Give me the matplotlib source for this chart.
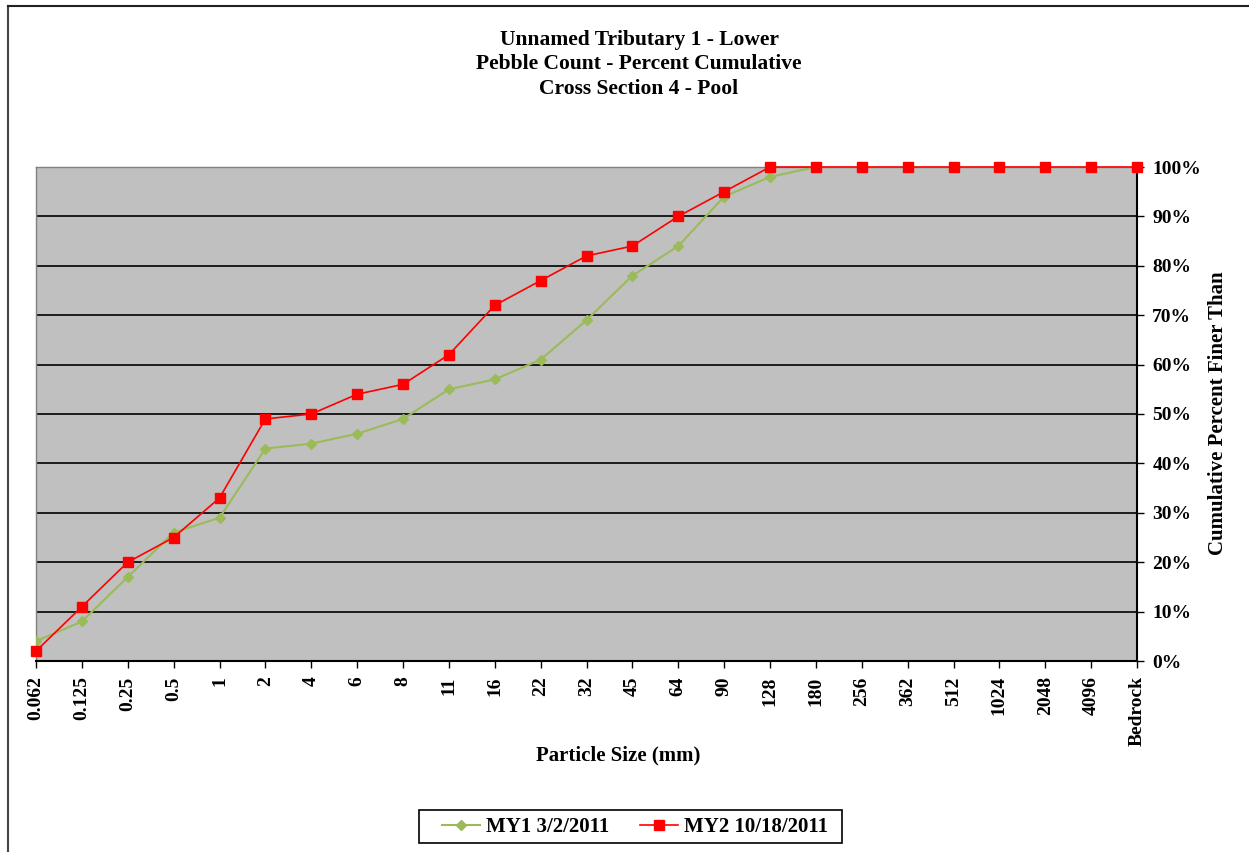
import matplotlib
matplotlib.use("Agg")
import matplotlib.pyplot as plt
from matplotlib.lines import Line2D
from matplotlib.patches import Rectangle
from matplotlib.ticker import FuncFormatter

plt.rcParams['font.family'] = ['Liberation Serif', 'DejaVu Serif']
plt.rcParams['font.weight'] = 'bold'

sizes = ["0.062", "0.125", "0.25", "0.5", "1", "2", "4", "6", "8", "11", "16",
         "22", "32", "45", "64", "90", "128", "180", "256", "362", "512",
         "1024", "2048", "4096", "Bedrock"]
my1 = [4, 8, 17, 26, 29, 43, 44, 46, 49, 55, 57, 61, 69, 78, 84, 94, 98,
       100, 100, 100, 100, 100, 100, 100, 100]
my2 = [2, 11, 20, 25, 33, 49, 50, 54, 56, 62, 72, 77, 82, 84, 90, 95, 100,
       100, 100, 100, 100, 100, 100, 100, 100]
yticks = [0, 10, 20, 30, 40, 50, 60, 70, 80, 90, 100]

W, H = 1249, 852
fig = plt.figure(figsize=(W / 100, H / 100), dpi=100)

# outer chart frame (top and left edges)
fig.add_artist(Line2D([8 / W, 8 / W], [0, 1 - 6 / H], color='#444444', lw=1.5,
                      transform=fig.transFigure))
fig.add_artist(Line2D([8 / W, 1], [1 - 6 / H, 1 - 6 / H], color='#222222', lw=1.5,
                      transform=fig.transFigure))

ax = fig.add_axes([36 / W, 1 - 661 / H, 1101 / W, 494 / H])
ax.set_facecolor('#C0C0C0')

x = list(range(len(sizes)))
ax.plot(x, my1, color='#9BBB59', lw=1.5, marker='D', ms=5, mec='#9BBB59',
        mfc='#9BBB59', label='MY1 3/2/2011', zorder=3)
ax.plot(x, my2, color='#FF0000', lw=1.2, marker='s', ms=7, mec='#FF0000',
        mfc='#FF0000', label='MY2 10/18/2011', zorder=4, clip_on=False)

ax.set_xlim(0, len(sizes) - 1)
ax.set_ylim(0, 100)
ax.set_xticks(x)
ax.set_xticklabels(sizes, rotation=90, fontsize=14, fontweight='bold')
ax.set_yticks(yticks)
ax.yaxis.set_major_formatter(FuncFormatter(lambda v, p: f"{int(v)}%"))
ax.yaxis.tick_right()
for lbl in ax.get_yticklabels():
    lbl.set_fontsize(14)
    lbl.set_fontweight('bold')
ax.tick_params(axis='y', direction='out', length=5, width=1, colors='black', pad=6)
ax.tick_params(axis='x', direction='out', length=5, width=1, colors='black', pad=6)

ax.grid(axis='y', color='black', lw=1.2)
ax.set_axisbelow(True)
for side in ['left', 'top']:
    ax.spines[side].set_color('#808080')
    ax.spines[side].set_linewidth(1)
for side in ['right', 'bottom']:
    ax.spines[side].set_color('black')
    ax.spines[side].set_linewidth(1.5)

fig.text(618 / W, 1 - 755 / H, 'Particle Size (mm)', ha='center', va='center',
         fontsize=15, fontweight='bold')
fig.text(1218 / W, 1 - 413 / H, 'Cumulative Percent Finer Than', ha='center',
         va='center', rotation=90, fontsize=15, fontweight='bold')

title_lines = ['Unnamed Tributary 1 - Lower', 'Pebble Count - Percent Cumulative',
               'Cross Section 4 - Pool']
for line, yy in zip(title_lines, [40, 64, 89]):
    fig.text(639 / W, 1 - yy / H, line, ha='center', va='center',
             fontsize=15.5, fontweight='bold')

# legend box with wider side margins than the legend's own frame allows
fig.add_artist(Rectangle((419 / W, 1 - 843 / H), 423 / W, 33 / H, fill=True,
                         facecolor='white', edgecolor='black', lw=1.2,
                         transform=fig.transFigure, zorder=5))
leg = fig.legend(loc='center', bbox_to_anchor=(635 / W, 1 - 827 / H), ncol=2,
                 frameon=False, handlelength=1.8, columnspacing=1.5,
                 borderpad=0.3, handletextpad=0.3, borderaxespad=0,
                 prop={'weight': 'bold', 'size': 15})
leg.set_zorder(6)

fig.savefig('out.png', dpi=100, facecolor='white')
